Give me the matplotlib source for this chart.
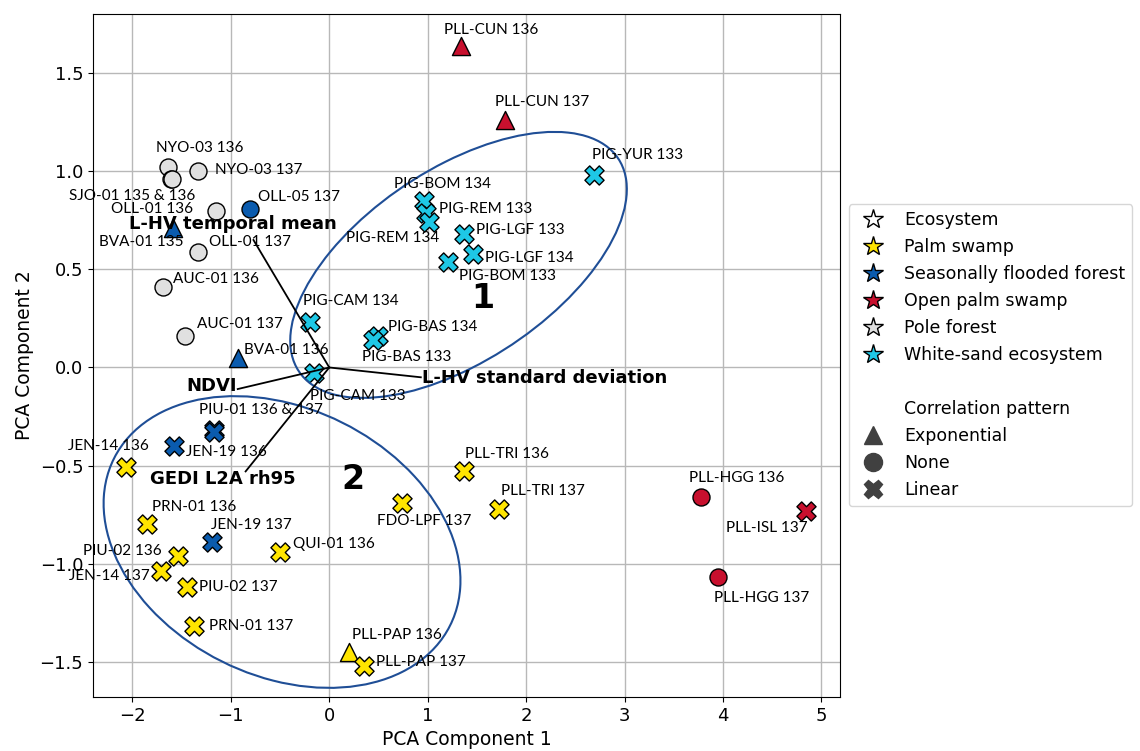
import matplotlib
matplotlib.use("Agg")
import matplotlib.pyplot as plt
from matplotlib.lines import Line2D
from matplotlib.patches import Ellipse

# PCA scores per site / campaign
sites = [
    "PLL-CUN 136", "PLL-CUN 137", "PIG-YUR 133",
    "NYO-03 136", "SJO-01 135", "SJO-01 136", "NYO-03 137",
    "OLL-01 136", "OLL-05 137", "BVA-01 135", "OLL-01 137",
    "AUC-01 136", "AUC-01 137", "BVA-01 136",
    "PIG-CAM 134", "PIG-CAM 133", "PIG-BAS 134", "PIG-BAS 133",
    "PIG-BOM 134", "PIG-REM 133", "PIG-REM 134", "PIG-LGF 133",
    "PIG-LGF 134", "PIG-BOM 133",
    "PIU-01 136", "PIU-01 137", "JEN-19 136", "JEN-14 136", "PRN-01 136",
    "JEN-19 137", "QUI-01 136", "PIU-02 136", "JEN-14 137", "PIU-02 137",
    "PRN-01 137", "PLL-PAP 136", "PLL-PAP 137", "FDO-LPF 137",
    "PLL-TRI 136", "PLL-TRI 137", "PLL-HGG 136", "PLL-ISL 137", "PLL-HGG 137",
]
pc1 = [
    1.34, 1.78, 2.69,
    -1.64, -1.61, -1.60, -1.33,
    -1.15, -0.81, -1.59, -1.33,
    -1.69, -1.47, -0.93,
    -0.20, -0.16, 0.49, 0.44,
    0.96, 0.98, 1.01, 1.37,
    1.46, 1.21,
    -1.17, -1.17, -1.58, -2.06, -1.85,
    -1.19, -0.50, -1.54, -1.71, -1.45,
    -1.37, 0.20, 0.35, 0.74,
    1.37, 1.72, 3.78, 4.84, 3.95,
]
pc2 = [
    1.64, 1.26, 0.98,
    1.02, 0.96, 0.96, 1.00,
    0.80, 0.81, 0.71, 0.59,
    0.41, 0.16, 0.05,
    0.23, -0.03, 0.16, 0.14,
    0.85, 0.79, 0.74, 0.68,
    0.58, 0.54,
    -0.32, -0.33, -0.40, -0.51, -0.80,
    -0.89, -0.94, -0.96, -1.04, -1.12,
    -1.32, -1.45, -1.52, -0.69,
    -0.53, -0.72, -0.66, -0.73, -1.07,
]
# PS palm swamp, SFF seasonally flooded forest, OPS open palm swamp,
# PF pole forest, WS white-sand ecosystem
ecosystem = [
    "OPS", "OPS", "WS",
    "PF", "PF", "PF", "PF",
    "PF", "SFF", "SFF", "PF",
    "PF", "PF", "SFF",
    "WS", "WS", "WS", "WS",
    "WS", "WS", "WS", "WS",
    "WS", "WS",
    "SFF", "SFF", "SFF", "PS", "PS",
    "SFF", "PS", "PS", "PS", "PS",
    "PS", "PS", "PS", "PS",
    "PS", "PS", "OPS", "OPS", "OPS",
]
pattern = [
    "Exponential", "Exponential", "Linear",
    "None", "None", "None", "None",
    "None", "None", "Exponential", "None",
    "None", "None", "Exponential",
    "Linear", "Linear", "Linear", "Linear",
    "Linear", "Linear", "Linear", "Linear",
    "Linear", "Linear",
    "Linear", "Linear", "Linear", "Linear", "Linear",
    "Linear", "Linear", "Linear", "Linear", "Linear",
    "Linear", "Exponential", "Linear", "Linear",
    "Linear", "Linear", "None", "Linear", "None",
]

# variable loadings (PC1, PC2)
loading_names = ["L-HV temporal mean", "L-HV standard deviation", "NDVI", "GEDI L2A rh95"]
loading_pc1 = [-0.77, 0.93, -0.93, -0.85]
loading_pc2 = [0.65, -0.05, -0.11, -0.53]

ecosystem_codes = ["PS", "SFF", "OPS", "PF", "WS"]
ecosystem_names = {
    "PS": "Palm swamp",
    "SFF": "Seasonally flooded forest",
    "OPS": "Open palm swamp",
    "PF": "Pole forest",
    "WS": "White-sand ecosystem",
}
pattern_names = ["Exponential", "None", "Linear"]

colors = {
    "PS": "#FFE500",
    "SFF": "#0A5BAE",
    "OPS": "#C8102E",
    "PF": "#E0E0E0",
    "WS": "#1EC8E6",
}
markers = {"Exponential": "^", "None": "o", "Linear": "X"}
sizes = {"Exponential": 170, "None": 150, "Linear": 190}

# label offsets in pixels (only one label for overlapping duplicates)
label_text = {"SJO-01 135": "SJO-01 135 & 136", "PIU-01 136": "PIU-01 136 & 137"}
label_skip = {"SJO-01 136", "PIU-01 137"}
label_offset = {
    "PLL-CUN 136": (30, 16), "PLL-CUN 137": (38, 18), "PIG-YUR 133": (43, 20),
    "NYO-03 136": (32, 19), "SJO-01 135": (-39, -17), "NYO-03 137": (60, 1),
    "OLL-01 136": (-64, 2), "OLL-05 137": (49, 12), "BVA-01 135": (-32, -14),
    "OLL-01 137": (52, 10), "AUC-01 136": (53, 8), "AUC-01 137": (55, 12),
    "BVA-01 136": (49, 8), "PIG-CAM 134": (41, 21), "PIG-CAM 133": (44, -23),
    "PIG-BAS 134": (55, 9), "PIG-BAS 133": (34, -17), "PIG-BOM 134": (19, 17),
    "PIG-REM 133": (60, 4), "PIG-REM 134": (-36, -16), "PIG-LGF 133": (56, 4),
    "PIG-LGF 134": (56, -4), "PIG-BOM 133": (59, -14), "PIU-01 136": (47, 20),
    "JEN-19 136": (53, -6), "JEN-14 136": (-18, 21), "PRN-01 136": (47, 17),
    "JEN-19 137": (39, 17), "QUI-01 136": (54, 8), "PIU-02 136": (-55, 5),
    "JEN-14 137": (-52, -5), "PIU-02 137": (52, 0), "PRN-01 137": (57, 0),
    "PLL-PAP 136": (48, 17), "PLL-PAP 137": (57, 4), "FDO-LPF 137": (22, -18),
    "PLL-TRI 136": (43, 17), "PLL-TRI 137": (44, 18), "PLL-HGG 136": (35, 19),
    "PLL-ISL 137": (-39, -17), "PLL-HGG 137": (44, -21),
}
loading_offset = {
    "L-HV temporal mean": (-21, 16, "center"),
    "L-HV standard deviation": (1, -1, "left"),
    "NDVI": (-26, 3, "center"),
    "GEDI L2A rh95": (-23, -8, "center"),
}

fig, ax = plt.subplots(figsize=(11.4, 7.51), dpi=100)
fig.subplots_adjust(left=0.0816, right=0.737, top=0.982, bottom=0.072)

ax.grid(True, color="#b8b8b8", linewidth=1)
ax.set_axisbelow(True)

for name, x, y, eco, pat in zip(sites, pc1, pc2, ecosystem, pattern):
    ax.scatter(x, y, s=sizes[pat], marker=markers[pat], color=colors[eco],
               edgecolor="black", linewidth=1, zorder=3)
    if name in label_skip:
        continue
    dx, dy = label_offset[name]
    ax.annotate(label_text.get(name, name), (x, y), xytext=(dx, dy),
                textcoords="offset pixels", ha="center", va="center",
                fontsize=11, family="Lato", zorder=5)

# cluster outlines
ax.add_patch(Ellipse((1.313, 0.523), 3.515, 1.085, angle=14.1, fill=False,
                     edgecolor="#1F4E96", linewidth=1.5, zorder=4))
ax.add_patch(Ellipse((-0.48, -0.89), 3.65, 1.425, angle=-7.3, fill=False,
                     edgecolor="#1F4E96", linewidth=1.5, zorder=4))
ax.text(1.56, 0.35, "1", fontsize=24, fontweight="bold", ha="center", va="center", zorder=6)
ax.text(0.24, -0.57, "2", fontsize=24, fontweight="bold", ha="center", va="center", zorder=6)

for name, lx, ly in zip(loading_names, loading_pc1, loading_pc2):
    ax.plot([0, lx], [0, ly], color="black", linewidth=1.3, zorder=4)
    dx, dy, ha = loading_offset[name]
    ax.annotate(name, (lx, ly), xytext=(dx, dy), textcoords="offset pixels",
                ha=ha, va="center", fontsize=13, fontweight="bold", zorder=6)

ax.set_xlim(-2.40, 5.19)
ax.set_ylim(-1.68, 1.805)
ax.set_xticks(range(-2, 6))
ax.set_yticks([-1.5, -1.0, -0.5, 0.0, 0.5, 1.0, 1.5])
ax.tick_params(labelsize=13)
ax.set_xlabel("PCA Component 1", fontsize=13.5)
ax.set_ylabel("PCA Component 2", fontsize=13.5)

handles = [Line2D([], [], linestyle="none", marker="*", markersize=15,
                  markerfacecolor="white", markeredgecolor="black", label="Ecosystem")]
for code in ecosystem_codes:
    handles.append(Line2D([], [], linestyle="none", marker="*", markersize=15,
                          markerfacecolor=colors[code], markeredgecolor="black",
                          label=ecosystem_names[code]))
handles.append(Line2D([], [], linestyle="none", label=" "))
handles.append(Line2D([], [], linestyle="none", label="Correlation pattern"))
for pat in pattern_names:
    handles.append(Line2D([], [], linestyle="none", marker=markers[pat], markersize=13,
                          markerfacecolor="#404040", markeredgecolor="#404040", label=pat))
ax.legend(handles=handles, loc="center left", bbox_to_anchor=(1.0, 0.5),
          fontsize=12.5, labelspacing=0.52)

fig.savefig("out.png", dpi=100)
